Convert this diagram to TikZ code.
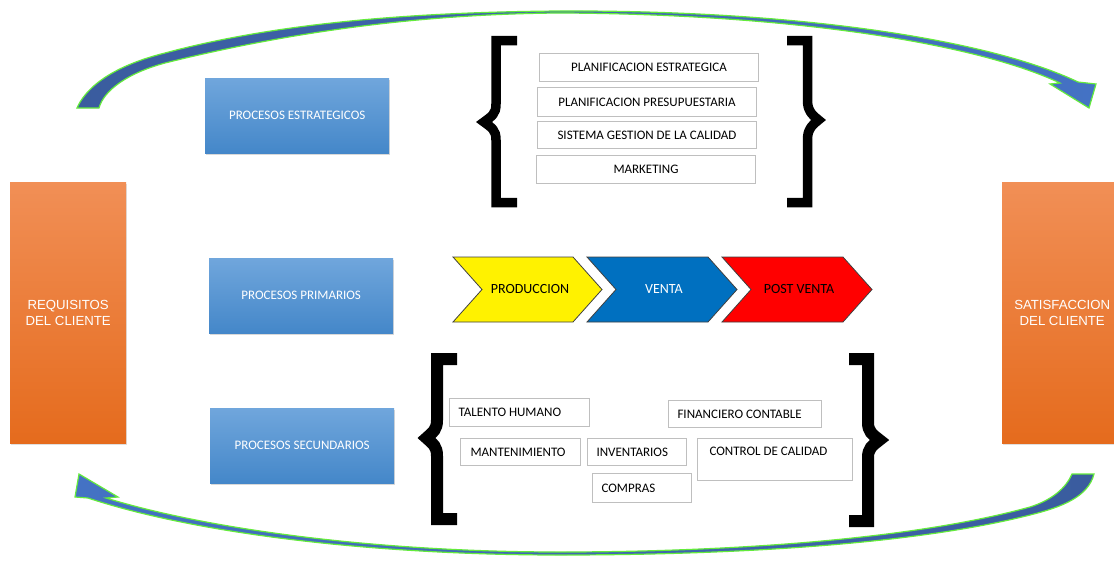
\documentclass[tikz,border=0pt]{standalone}
\usepackage{fontspec}
\setmainfont{Carlito}
\newfontfamily\arialf{Liberation Sans}
\usetikzlibrary{shadows,calc}
\definecolor{orTop}{RGB}{241,143,86}
\definecolor{orBot}{RGB}{229,107,29}
\definecolor{blTop}{RGB}{112,166,220}
\definecolor{blBot}{RGB}{68,135,201}
\definecolor{arrDark}{RGB}{58,92,158}
\definecolor{arrLight}{RGB}{68,114,196}
\definecolor{arrEdge}{RGB}{100,235,60}
\definecolor{boxEdge}{RGB}{191,191,191}
\definecolor{chEdge}{RGB}{64,64,64}
\definecolor{chBlue}{RGB}{0,112,192}
\tikzset{
  client/.style={rectangle, inner sep=0pt, top color=orTop, bottom color=orBot, text=white,
    font=\arialf\fontsize{13.2}{16}\selectfont, align=center, anchor=north west,
    minimum height=261pt, drop shadow={shadow xshift=1pt, shadow yshift=-1.5pt, opacity=0.25}},
  proc/.style={rectangle, inner sep=0pt, top color=blTop, bottom color=blBot, text=white,
    font=\fontsize{13}{15}\selectfont, minimum width=184pt, minimum height=75pt, anchor=north west,
    drop shadow={shadow xshift=1pt, shadow yshift=-2pt, opacity=0.3}},
  item/.style={rectangle, draw=boxEdge, line width=1pt, fill=white, inner sep=0pt,
    font=\fontsize{13}{16}\selectfont, anchor=north west},
  itemL/.style={item, align=flush left, inner xsep=#1},
  brace/.style={line width=9.5pt, line join=miter, miter limit=2, line cap=butt, draw=black},
  bigbrace/.style={brace, line width=12pt},
  curvarrow/.style={draw=arrEdge, line width=1.2pt, line join=miter},
  chev/.style={draw=chEdge, line width=0.8pt},
  chtext/.style={font=\fontsize{14}{16}\selectfont},
}
\begin{document}
\begin{tikzpicture}[x=1pt, y=-1pt]
\useasboundingbox (0,0) rectangle (1114,562);
\clip (0,0) rectangle (1114,562);
\fill[white] (0,0) rectangle (1114,562);

% curved arrows
\path[curvarrow, left color=arrDark, right color=arrLight]
  (77,108) .. controls (84,92) and (105,68) .. (165,53)
  .. controls (280,22) and (420,12) .. (560,11)
  .. controls (800,10) and (990,40) .. (1078,82)
  -- (1096,84) -- (1089,108) -- (1050,84) -- (1060,83)
  .. controls (975,43) and (790,14) .. (560,13)
  .. controls (420,14) and (290,32) .. (165,63)
  .. controls (128,73) and (104,90) .. (99,108) -- cycle;
\path[curvarrow, left color=arrLight, right color=arrDark]
  (1072,474) -- (1094,474)
  .. controls (1088,497) and (1062,507) .. (1030,515)
  .. controls (900,548) and (700,555) .. (560,555)
  .. controls (380,555) and (200,535) .. (88,498)
  -- (75,497) -- (79,474) -- (118,497) -- (106,498)
  .. controls (210,530) and (380,552) .. (560,552)
  .. controls (700,552) and (900,543) .. (1030,507)
  .. controls (1052,500) and (1066,488) .. (1072,474) -- cycle;

% client boxes
\node[client, minimum width=116pt] (req) at (10,182) {REQUISITOS\\DEL CLIENTE};
\node[client, minimum width=120pt] (sat) at (1002,182) {SATISFACCION\\DEL CLIENTE};

% process boxes
\node[proc] (pest) at (205,78) {PROCESOS ESTRATEGICOS};
\node[proc] (pprim) at (209,258) {PROCESOS PRIMARIOS};
\node[proc] (psec) at (210,408) {PROCESOS SECUNDARIOS};

% braces
\draw[brace] (517,40.5) -- (496,40.5) -- (496,104) .. controls (496,114) and (492,116) .. (484,122)
  .. controls (492,128) and (496,130) .. (496,140) -- (496,202.5) -- (517,202.5);
\draw[brace] (787,40.5) -- (807.5,40.5) -- (807.5,100) .. controls (807.5,110) and (811,114) .. (818.5,120)
  .. controls (811,126) and (807.5,130) .. (807.5,140) -- (807.5,202.5) -- (787,202.5);
\draw[bigbrace] (457,359) -- (437,359) -- (437,420) .. controls (437,430) and (433,432) .. (426.5,438)
  .. controls (433,444) and (437,446) .. (437,456) -- (437,519) -- (457,519);
\draw[bigbrace] (849,359) -- (868,359) -- (868,422) .. controls (868,432) and (872,434) .. (879.5,440)
  .. controls (872,446) and (868,448) .. (868,458) -- (868,521) -- (849,521);

% strategic items
\node[item, minimum width=219pt, minimum height=28pt] (pe) at (539,53) {PLANIFICACION ESTRATEGICA};
\node[item, minimum width=219pt, minimum height=29pt] (pp) at (537,87) {PLANIFICACION PRESUPUESTARIA};
\node[item, minimum width=219pt, minimum height=27pt] (sg) at (537,121) {SISTEMA GESTION DE LA CALIDAD};
\node[item, minimum width=219pt, minimum height=28pt] (mk) at (536,155) {MARKETING};

% chevrons
\path[chev, fill=yellow] (453,257) -- (573,257) -- (602,289.5) -- (573,322) -- (453,322) -- (482,289.5) -- cycle;
\path[chev, fill=chBlue] (587,257) -- (708,257) -- (737,289.5) -- (708,322) -- (587,322) -- (616,289.5) -- cycle;
\path[chev, fill=red] (722,257) -- (843,257) -- (872,289.5) -- (843,322) -- (722,322) -- (751,289.5) -- cycle;
\node[chtext] (prod) at (530,289) {PRODUCCION};
\node[chtext, text=white] (venta) at (664,289) {VENTA};
\node[chtext] (post) at (799,289) {POST VENTA};

% secondary items
\node[itemL=9pt, text width=122pt, minimum height=28pt] (th) at (449,398) {TALENTO HUMANO};
\node[itemL=9pt, text width=135pt, minimum height=27pt] (fc) at (668,400) {FINANCIERO CONTABLE};
\node[itemL=10pt, text width=100pt, minimum height=27pt] (mt) at (460,438) {MANTENIMIENTO};
\node[itemL=9pt, text width=81pt, minimum height=27pt] (inv) at (587,438) {INVENTARIOS};
\node[itemL=12pt, text width=131pt, minimum height=42pt] (cc) at (697,438) {CONTROL DE CALIDAD\\\mbox{}};
\node[itemL=9pt, text width=81pt, minimum height=29pt] (co) at (592,473) {COMPRAS};
\end{tikzpicture}
\end{document}
